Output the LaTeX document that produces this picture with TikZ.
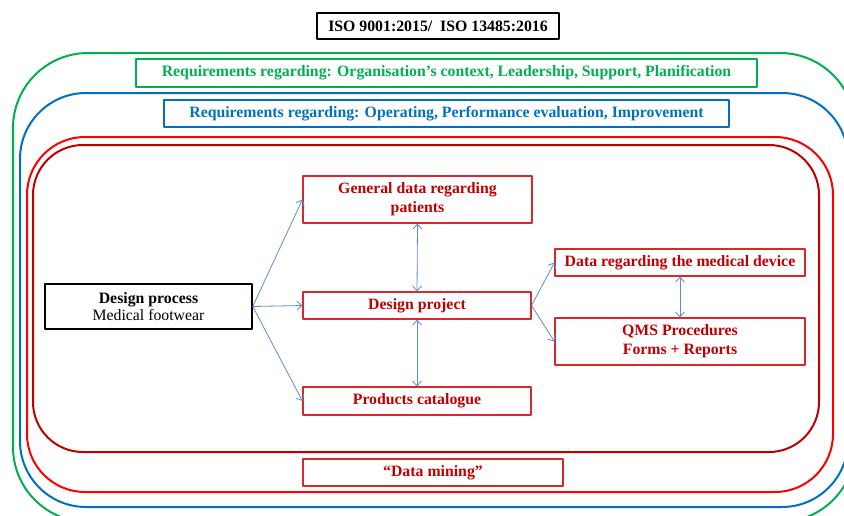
\documentclass[tikz,border=0pt]{standalone}
\usepackage{fontspec}
\setmainfont{Liberation Serif}
\usetikzlibrary{arrows.meta}
\definecolor{vert}{RGB}{0,176,80}
\definecolor{bleu}{RGB}{0,112,192}
\definecolor{rouge}{RGB}{255,0,0}
\definecolor{bordeaux}{RGB}{192,0,0}
\definecolor{filet}{RGB}{215,40,45}
\definecolor{fleche}{RGB}{95,140,205}
\begin{document}
\begin{tikzpicture}[x=1pt,y=-1pt,line join=round,
	texte/.style={font=\fontsize{15.8}{19}\selectfont\bfseries,align=center,inner sep=0pt},
	boite/.style={texte,draw=filet,line width=1.1pt,text=bordeaux},
	lien/.style={draw=fleche,line width=0.8pt,-{Straight Barb[length=5pt,width=9pt]}},
	lien double/.style={draw=fleche,line width=0.8pt,{Straight Barb[length=5pt,width=9pt]}-{Straight Barb[length=5pt,width=9pt]}}]
	\clip (0,0) rectangle (844,515);
	\draw[line width=2pt,vert] (13,53) [rounded corners=75pt] rectangle (855,522) ;%cadre vert
	\draw[line width=2pt,bleu] (20,93) [rounded corners=66pt] rectangle (848,507) ;%cadre bleu
	\draw[line width=2pt,rouge] (27,137) [rounded corners=58pt] rectangle (833,492) ;%cadre rouge
	\draw[line width=2pt,bordeaux] (33,145) [rounded corners=50pt] rectangle (819,452) ;%cadre bordeaux
	\node[texte,draw,line width=1.1pt,minimum width=242pt,minimum height=26pt] (iso) at (438,26) {ISO 9001:2015/\ \ ISO 13485:2016} ;
	\node[texte,draw=vert,line width=1.1pt,text=vert,minimum width=621pt,minimum height=28pt] (reqA) at (446.5,73) {Requirements regarding: Organisation’s context, Leadership, Support, Planification} ;
	\node[texte,draw=bleu,line width=1.1pt,text=bleu,minimum width=565pt,minimum height=27pt] (reqB) at (446.5,113.5) {Requirements regarding: Operating, Performance evaluation, Improvement} ;
	\node[texte,draw,line width=1.5pt,minimum width=207pt,minimum height=45pt,font=\fontsize{15.8}{17}\selectfont] (dp) at (148.5,306.5) {\textbf{Design process}\\Medical footwear} ;
	\node[boite,minimum width=229pt,minimum height=47pt] (gen) at (417.5,199.5) {General data regarding\\patients} ;
	\node[boite,minimum width=228pt,minimum height=27pt] (proj) at (417,305.5) {Design project} ;
	\node[boite,minimum width=228pt,minimum height=28pt] (cat) at (417,401) {Products catalogue} ;
	\node[boite,minimum width=250pt,minimum height=27pt] (dev) at (680,262.5) {Data regarding the medical device} ;
	\node[boite,minimum width=250pt,minimum height=47pt] (qms) at (680,341.5) {QMS Procedures\\Forms + Reports} ;
	\node[boite,minimum width=260pt,minimum height=27pt] (mining) at (433,472.5) {“Data mining”} ;
	\foreach \Depart/\Arrivee in {dp/gen,dp/proj,dp/cat,proj/dev,proj/qms}
		\draw[lien] (\Depart.east) -- (\Arrivee.west) ;
	\foreach \Haut/\Bas in {gen/proj,proj/cat,dev/qms}
		\draw[lien double] (\Haut.south) -- (\Bas.north) ;
\end{tikzpicture}
\end{document}
